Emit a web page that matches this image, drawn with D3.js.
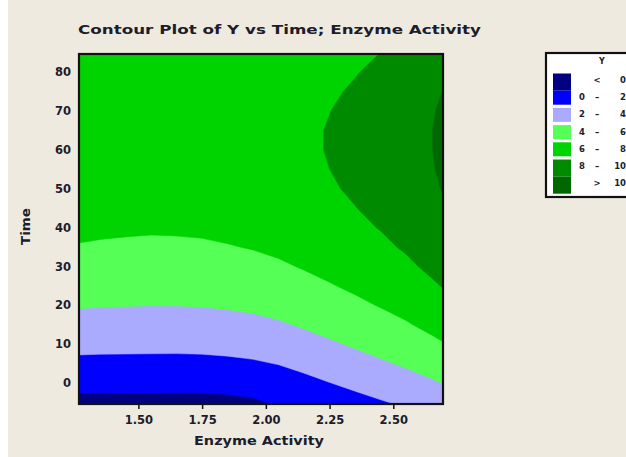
<!DOCTYPE html>
<html>
<head>
<meta charset="utf-8">
<script src="https://cdn.jsdelivr.net/npm/d3@7"></script>
<style>
  html, body { margin: 0; padding: 0; background: #ffffff; }
  svg { display: block; }
  text { font-family: "DejaVu Sans", "Liberation Sans", sans-serif; font-weight: bold; fill: #1c1c2a; }
</style>
</head>
<body>
<svg id="chart" width="626" height="457"></svg>
<script>
// Grid of fitted response Y over Enzyme Activity (columns) and Time (rows)
const enzymeActivity = [1.25, 1.35, 1.45, 1.55, 1.65, 1.75, 1.85, 1.95, 2.05, 2.15, 2.25, 2.35, 2.45, 2.55, 2.65, 2.75];
const timeValues = [-10, -5, 0, 5, 10, 15, 20, 25, 30, 35, 40, 45, 50, 55, 60, 65, 70, 75, 80, 85, 90];
const yByTime = [
  [-1.74, -1.73, -1.70, -1.69, -1.72, -1.71, -1.64, -1.49, -0.70, -0.45, -0.16, 0.33, 0.79, 1.18, 1.63, 2.15],
  [-0.54, -0.55, -0.53, -0.53, -0.55, -0.54, -0.46, -0.25, 0.25, 0.46, 0.94, 1.42, 1.86, 2.27, 2.75, 3.29],
  [0.57, 0.55, 0.55, 0.55, 0.53, 0.55, 0.64, 0.79, 1.06, 1.51, 1.97, 2.42, 2.86, 3.29, 3.79, 4.36],
  [1.59, 1.56, 1.55, 1.54, 1.53, 1.56, 1.65, 1.80, 2.06, 2.48, 2.91, 3.35, 3.78, 4.22, 4.75, 5.34],
  [2.53, 2.48, 2.47, 2.45, 2.45, 2.48, 2.57, 2.72, 2.98, 3.37, 3.78, 4.20, 4.63, 5.08, 5.63, 6.24],
  [3.38, 3.33, 3.30, 3.28, 3.28, 3.32, 3.42, 3.57, 3.81, 4.18, 4.57, 4.97, 5.40, 5.85, 6.42, 7.06],
  [4.15, 4.08, 4.05, 4.02, 4.03, 4.07, 4.17, 4.32, 4.56, 4.91, 5.28, 5.67, 6.09, 6.55, 7.14, 7.79],
  [4.83, 4.75, 4.71, 4.68, 4.69, 4.74, 4.84, 4.99, 5.22, 5.55, 5.90, 6.28, 6.70, 7.17, 7.78, 8.44],
  [5.42, 5.34, 5.29, 5.26, 5.27, 5.32, 5.43, 5.58, 5.80, 6.11, 6.45, 6.82, 7.23, 7.71, 8.33, 9.01],
  [5.93, 5.84, 5.79, 5.75, 5.77, 5.82, 5.93, 6.08, 6.30, 6.59, 6.92, 7.28, 7.69, 8.18, 8.81, 9.50],
  [6.35, 6.26, 6.20, 6.16, 6.18, 6.23, 6.35, 6.50, 6.71, 6.99, 7.31, 7.67, 8.07, 8.56, 9.20, 9.90],
  [6.68, 6.59, 6.52, 6.49, 6.50, 6.56, 6.68, 6.83, 7.03, 7.31, 7.62, 7.97, 8.37, 8.87, 9.52, 10.22],
  [6.93, 6.84, 6.77, 6.73, 6.75, 6.81, 6.93, 7.08, 7.28, 7.55, 7.85, 8.20, 8.60, 9.09, 9.75, 10.46],
  [7.10, 7.00, 6.93, 6.89, 6.91, 6.97, 7.09, 7.24, 7.44, 7.70, 8.00, 8.34, 8.74, 9.24, 9.90, 10.62],
  [7.17, 7.07, 7.00, 6.96, 6.98, 7.04, 7.16, 7.31, 7.51, 7.77, 8.07, 8.41, 8.81, 9.31, 9.97, 10.69],
  [7.16, 7.06, 7.00, 6.96, 6.97, 7.03, 7.15, 7.30, 7.50, 7.77, 8.07, 8.41, 8.81, 9.31, 9.97, 10.69],
  [7.07, 6.97, 6.90, 6.86, 6.88, 6.94, 7.06, 7.21, 7.41, 7.68, 7.98, 8.32, 8.72, 9.22, 9.88, 10.59],
  [6.89, 6.79, 6.73, 6.69, 6.71, 6.76, 6.88, 7.03, 7.24, 7.51, 7.81, 8.16, 8.56, 9.05, 9.71, 10.42],
  [6.62, 6.53, 6.47, 6.43, 6.45, 6.50, 6.62, 6.77, 6.98, 7.25, 7.57, 7.92, 8.32, 8.81, 9.46, 10.17],
  [6.27, 6.18, 6.12, 6.09, 6.10, 6.16, 6.27, 6.43, 6.63, 6.92, 7.24, 7.60, 8.00, 8.49, 9.13, 9.83],
  [5.83, 5.75, 5.69, 5.66, 5.67, 5.73, 5.84, 5.99, 6.20, 6.50, 6.83, 7.20, 7.61, 8.09, 8.72, 9.41]
];

// Contour levels and the fill colour of each band (lowest band first)
const levels = [0, 2, 4, 6, 8, 10];
const bandColors = ["#000080", "#0000ff", "#aaaaff", "#55ff55", "#00d400", "#008a00", "#006800"];
const legendLow = ["", "0", "2", "4", "6", "8", ""];
const legendSep = ["<", "–", "–", "–", "–", "–", ">"];
const legendHigh = ["0", "2", "4", "6", "8", "10", "10"];

const xTicks = [1.50, 1.75, 2.00, 2.25, 2.50];
const yTicks = [0, 10, 20, 30, 40, 50, 60, 70, 80];
const xDomain = [1.267, 2.695];
const yDomain = [-5.4, 84.6];

const svg = d3.select("#chart");

// page background
svg.append("rect").attr("x", 0).attr("y", 0).attr("width", 626).attr("height", 457).attr("fill", "#ffffff");
svg.append("rect").attr("x", 8).attr("y", 0).attr("width", 618).attr("height", 457).attr("fill", "#eeeae0");

const plot = { left: 79, top: 54, right: 443, bottom: 404 };
const x = d3.scaleLinear().domain(xDomain).range([plot.left, plot.right]);
const y = d3.scaleLinear().domain(yDomain).range([plot.bottom, plot.top]);

// grid coordinates from d3.contours -> data values (sample i sits at i + 0.5)
const nx = enzymeActivity.length, ny = timeValues.length;
const gridX = d3.scaleLinear().domain([0.5, nx - 0.5]).range([enzymeActivity[0], enzymeActivity[nx - 1]]);
const gridY = d3.scaleLinear().domain([0.5, ny - 0.5]).range([timeValues[0], timeValues[ny - 1]]);
const projection = d3.geoTransform({
  point: function (gx, gy) { this.stream.point(x(gridX(gx)), y(gridY(gy))); }
});
const path = d3.geoPath(projection);

const values = yByTime.flat();
const contours = d3.contours().size([nx, ny]).thresholds(levels)(values);

svg.append("clipPath").attr("id", "plot-clip")
  .append("rect")
  .attr("x", plot.left).attr("y", plot.top)
  .attr("width", plot.right - plot.left).attr("height", plot.bottom - plot.top);

const field = svg.append("g").attr("clip-path", "url(#plot-clip)");
field.append("rect")
  .attr("x", plot.left).attr("y", plot.top)
  .attr("width", plot.right - plot.left).attr("height", plot.bottom - plot.top)
  .attr("fill", bandColors[0]);
field.selectAll("path.band")
  .data(contours)
  .join("path")
  .attr("class", "band")
  .attr("d", path)
  .attr("fill", (d, i) => bandColors[i + 1])
  .attr("stroke", (d, i) => bandColors[i + 1])
  .attr("stroke-width", 0.5);

// frame
svg.append("rect")
  .attr("x", plot.left).attr("y", plot.top)
  .attr("width", plot.right - plot.left).attr("height", plot.bottom - plot.top)
  .attr("fill", "none").attr("stroke", "#111111").attr("stroke-width", 2.2);

// axes
const xAxis = svg.append("g")
  .attr("transform", `translate(0,${plot.bottom})`)
  .call(d3.axisBottom(x).tickValues(xTicks).tickFormat(d3.format(".2f")).tickSize(5).tickPadding(7));
xAxis.select(".domain").remove();
xAxis.selectAll(".tick line").attr("stroke", "#111").attr("stroke-width", 1.5);
xAxis.selectAll(".tick text").attr("font-size", 11.5).attr("fill", "#1c1c2a")
  .style("font-family", "'DejaVu Sans', sans-serif").style("font-weight", "bold");

const yAxis = svg.append("g")
  .attr("transform", `translate(${plot.left},0)`)
  .call(d3.axisLeft(y).tickValues(yTicks).tickSize(0).tickPadding(8));
yAxis.select(".domain").remove();
yAxis.selectAll(".tick text").attr("font-size", 11.5).attr("fill", "#1c1c2a")
  .style("font-family", "'DejaVu Sans', sans-serif").style("font-weight", "bold");

// titles
svg.append("text")
  .attr("x", 78).attr("y", 34)
  .attr("font-size", 13)
  .attr("textLength", 403).attr("lengthAdjust", "spacingAndGlyphs")
  .text("Contour Plot of Y vs Time; Enzyme Activity");

svg.append("text")
  .attr("x", 194).attr("y", 445)
  .attr("font-size", 12.5)
  .attr("textLength", 130).attr("lengthAdjust", "spacingAndGlyphs")
  .text("Enzyme Activity");

svg.append("text")
  .attr("transform", "translate(30,245) rotate(-90)")
  .attr("font-size", 12.5)
  .attr("textLength", 37).attr("lengthAdjust", "spacingAndGlyphs")
  .text("Time");

// legend
const legend = svg.append("g");
legend.append("rect")
  .attr("x", 546).attr("y", 53).attr("width", 100).attr("height", 144)
  .attr("fill", "#ffffff").attr("stroke", "#111111").attr("stroke-width", 2.2);
legend.append("text")
  .attr("x", 602).attr("y", 64).attr("text-anchor", "middle")
  .attr("font-size", 8).attr("fill", "#3060c0").text("Y");

const rowTop = 73.5, rowStep = 17.2;
bandColors.forEach((c, i) => {
  const top = rowTop + i * rowStep;
  const h = (i === 0 || i === 5) ? rowStep : 14;
  legend.append("rect")
    .attr("x", 553).attr("y", top).attr("width", 18).attr("height", (i === 6 ? 17 : h))
    .attr("fill", c);
  const cy = top + 9.5;
  legend.append("text").attr("x", 585).attr("y", cy).attr("text-anchor", "end")
    .attr("font-size", 8.5).text(legendLow[i]);
  legend.append("text").attr("x", 597).attr("y", cy).attr("text-anchor", "middle")
    .attr("font-size", 8.5).text(legendSep[i]);
  legend.append("text").attr("x", 626).attr("y", cy).attr("text-anchor", "end")
    .attr("font-size", 8.5).text(legendHigh[i]);
});
</script>
</body>
</html>
